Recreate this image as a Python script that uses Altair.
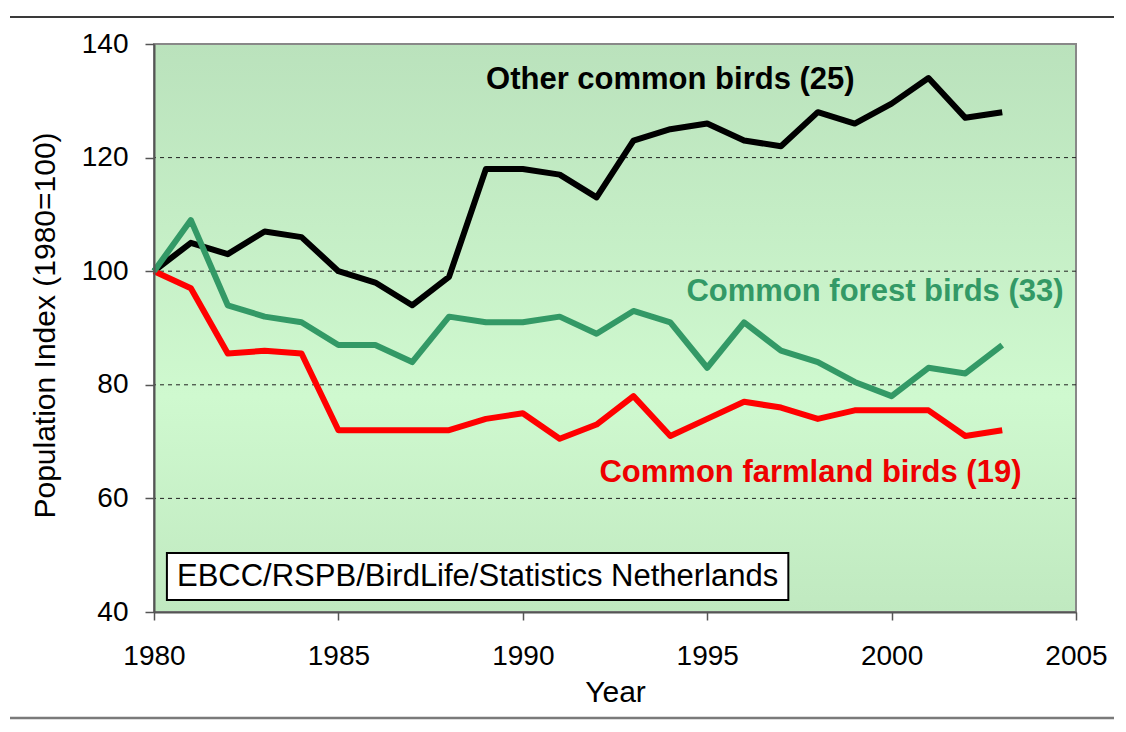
import altair as alt
import pandas as pd

# ---- data ----
years = list(range(1980, 2004))
other_birds = [100, 105, 103, 107, 106, 100, 98, 94, 99, 118, 118, 117, 113, 123, 125, 126,
               123, 122, 128, 126, 129.5, 134, 127, 128]
forest_birds = [100, 109, 94, 92, 91, 87, 87, 84, 92, 91, 91, 92, 89, 93, 91, 83,
                91, 86, 84, 80.5, 78, 83, 82, 87]
farmland_birds = [100, 97, 85.5, 86, 85.5, 72, 72, 72, 72, 74, 75, 70.5, 73, 78, 71, 74,
                  77, 76, 74, 75.5, 75.5, 75.5, 71, 72]

series_names = ["Other common birds (25)", "Common farmland birds (19)", "Common forest birds (33)"]
series_values = [other_birds, farmland_birds, forest_birds]
series_colors = ["#000000", "#ff0000", "#339966"]

label_texts = ["Other common birds (25)", "Common forest birds (33)", "Common farmland birds (19)"]
label_x = [1994.0, 1999.55, 1997.8]
label_y = [133.7, 96.3, 64.4]
label_colors = ["#000000", "#339966", "#ee0000"]

source_text = "EBCC/RSPB/BirdLife/Statistics Netherlands"
source_box = {"x0": 1980.35, "x1": 1997.2, "y0": 42.1, "y1": 50.4}

x_ticks = [1980, 1985, 1990, 1995, 2000, 2005]
y_ticks = [40, 60, 80, 100, 120, 140]
grid_values = [60, 80, 100, 120]
x_domain = [1980, 2005]
y_domain = [40, 140]

FONT = "Liberation Sans"

x_axis = alt.Axis(values=x_ticks, format="d", labelFontSize=28, labelFont=FONT, labelColor="#000000",
                  labelFlush=False, labelPadding=22, tickSize=8, tickColor="#555555", tickWidth=1.5,
                  domainColor="#555555", domainWidth=2, grid=False, title="Year", titleFont=FONT,
                  titleFontSize=30, titleFontWeight="normal", titleColor="#000000",
                  titleX=461, titleY=80, titleBaseline="middle", titleAlign="center", zindex=1)
y_axis = alt.Axis(values=y_ticks, labelFontSize=28, labelFont=FONT, labelColor="#000000",
                  labelFlush=False, labelPadding=17, tickSize=9, tickColor="#555555", tickWidth=1.5,
                  domainColor="#555555", domainWidth=2, grid=False,
                  title="Population Index (1980=100)", titleFont=FONT, titleFontSize=30,
                  titleFontWeight="normal", titleColor="#000000", titleX=-109, titleY=281,
                  titleAngle=270, titleBaseline="middle", titleAlign="center", zindex=1)

x_scale = alt.Scale(domain=x_domain, nice=False, zero=False)
y_scale = alt.Scale(domain=y_domain, nice=False, zero=False)

# background gradient panel
bg_df = pd.DataFrame([{"x0": x_domain[0], "x1": x_domain[1], "y0": y_domain[0], "y1": y_domain[1]}])
background = alt.Chart(bg_df).mark_rect(
    fill=alt.Gradient(gradient="linear", x1=0, x2=0, y1=0, y2=1,
                      stops=[alt.GradientStop(color="#bae2bc", offset=0),
                             alt.GradientStop(color="#cff9cf", offset=0.62),
                             alt.GradientStop(color="#c0e9c0", offset=1)]),
    stroke="#888888", strokeWidth=2
).encode(
    x=alt.X("x0:Q", scale=x_scale, axis=x_axis),
    x2="x1:Q",
    y=alt.Y("y0:Q", scale=y_scale, axis=y_axis),
    y2="y1:Q",
)

grid_df = pd.DataFrame({"g": grid_values})
grid = alt.Chart(grid_df).mark_rule(color="#222222", strokeWidth=1, strokeDash=[4, 4]).encode(
    y=alt.Y("g:Q", scale=y_scale, axis=y_axis)
)

line_layers = []
for name, vals, col in zip(series_names, series_values, series_colors):
    d = pd.DataFrame({"year": years, "value": vals, "series": name})
    line_layers.append(
        alt.Chart(d).mark_line(color=col, strokeWidth=6, strokeJoin="round").encode(
            x=alt.X("year:Q", scale=x_scale, axis=x_axis),
            y=alt.Y("value:Q", scale=y_scale, axis=y_axis),
        )
    )

lab_df = pd.DataFrame({"x": label_x, "y": label_y, "text": label_texts, "color": label_colors})
labels = alt.Chart(lab_df).mark_text(font=FONT, fontSize=31, fontWeight="bold", align="center",
                                     baseline="middle").encode(
    x=alt.X("x:Q", scale=x_scale, axis=x_axis),
    y=alt.Y("y:Q", scale=y_scale, axis=y_axis),
    text="text:N",
    color=alt.Color("color:N", scale=None),
)

box_df = pd.DataFrame([source_box])
box = alt.Chart(box_df).mark_rect(fill="#ffffff", stroke="#000000", strokeWidth=2).encode(
    x=alt.X("x0:Q", scale=x_scale, axis=x_axis), x2="x1:Q",
    y=alt.Y("y0:Q", scale=y_scale, axis=y_axis), y2="y1:Q",
)
src_df = pd.DataFrame([{"x": (source_box["x0"] + source_box["x1"]) / 2,
                        "y": (source_box["y0"] + source_box["y1"]) / 2, "t": source_text}])
src = alt.Chart(src_df).mark_text(font=FONT, fontSize=31, color="#000000", align="center",
                                  baseline="middle").encode(
    x=alt.X("x:Q", scale=x_scale, axis=x_axis),
    y=alt.Y("y:Q", scale=y_scale, axis=y_axis),
    text="t:N",
)

# decorative frame lines of the slide
top_line = alt.Chart(pd.DataFrame({"a": [0]})).mark_rule(color="#3a3a3a", strokeWidth=2).encode(
    x=alt.value(-144), x2=alt.value(960), y=alt.value(-27)
)
bottom_line = alt.Chart(pd.DataFrame({"a": [0]})).mark_rule(color="#7a7a7a", strokeWidth=2.5).encode(
    x=alt.value(-144), x2=alt.value(960), y=alt.value(674)
)

chart = alt.layer(background, grid, *line_layers, labels, box, src, top_line, bottom_line).properties(
    width=922, height=568,
    padding={"left": 146, "top": 36, "right": 42, "bottom": 108},
    autosize=alt.AutoSizeParams(type="none"),
    background="#ffffff",
).configure_view(stroke=None)

chart.save("out.html", embed_options={"renderer": "svg", "actions": False})
